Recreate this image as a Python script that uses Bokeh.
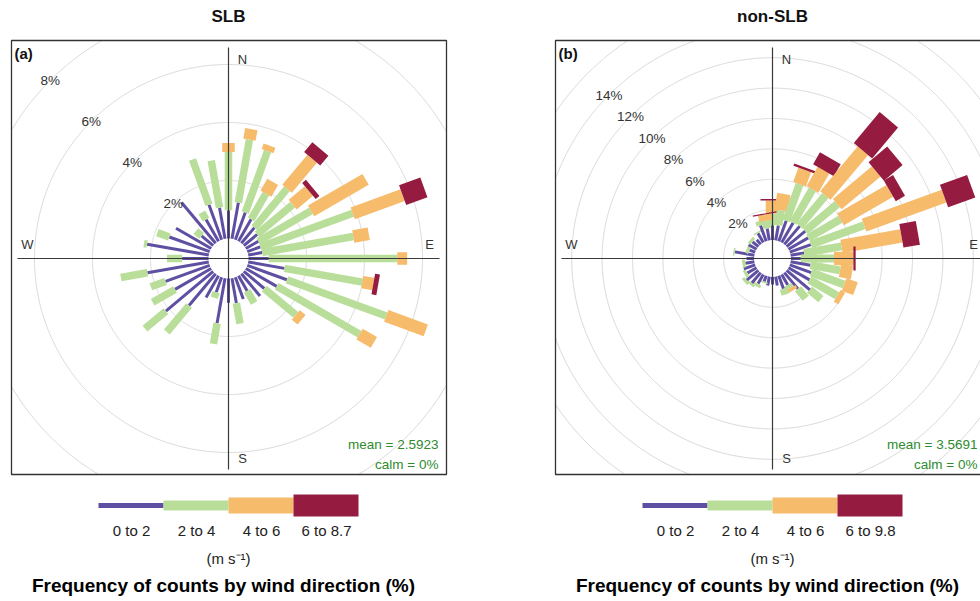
import numpy as np
from bokeh.plotting import figure
from bokeh.models import Range1d
from bokeh.core.properties import value
from bokeh.embed import file_html
from bokeh.resources import INLINE

W, H = 980, 601
FONT = value("Liberation Sans")

# ---------------- data ----------------
directions = list(range(0, 360, 10))
bin_colors = ["#5E4FA2", "#B9DE9A", "#F6BB6B", "#961B40"]

panel_titles = ["SLB", "non-SLB"]
panel_tags = ["(a)", "(b)"]
unit_label = "(m s\u207b\u00b9)"
caption = "Frequency of counts by wind direction (%)"
compass = ["N", "E", "S", "W"]

# SLB: frequency (%) per direction for each speed interval
slb_labels = ["0 to 2", "2 to 4", "4 to 6", "6 to 8.7"]
slb_0_2 = [0.97, 1.27, 1.00, 0.87, 0.70, 0.60, 0.50, 0.48, 0.49, 0.70, 1.27, 1.45,
           1.23, 0.92, 1.00, 0.60, 0.80, 0.87, 0.84, 1.58, 0.55, 0.86, 1.43, 2.13,
           1.44, 1.62, 2.15, 0.91, 2.16, 1.48, 1.40, 0.52, 1.83, 0.86, 1.28, 1.09]
slb_2_4 = [2.01, 2.20, 2.25, 1.02, 1.75, 1.60, 2.10, 3.39, 3.19, 4.43, 2.73, 3.65,
           3.30, 1.42, 0.00, 0.48, 0.00, 0.72, 0.00, 0.72, 0.20, 0.00, 1.19, 0.94,
           0.89, 0.54, 0.93, 0.52, 0.11, 0.44, 0.00, 0.26, 0.00, 0.29, 1.66, 1.65]
slb_4_6 = [0.31, 0.37, 0.20, 0.47, 1.35, 0.73, 2.17, 1.83, 0.54, 0.34, 0.38, 1.45,
           0.57, 0.26, 0, 0, 0, 0, 0, 0, 0, 0, 0, 0,
           0, 0, 0, 0, 0, 0, 0, 0, 0, 0, 0, 0]
slb_6_87 = [0, 0, 0, 0, 0.44, 0.17, 0, 0.78, 0, 0, 0.17, 0,
            0, 0, 0, 0, 0, 0, 0, 0, 0, 0, 0, 0,
            0, 0, 0, 0, 0, 0, 0, 0, 0, 0, 0, 0]
slb_rings = [2, 4, 6, 8]
slb_mean = "mean = 2.5923"
slb_calm = "calm = 0%"

# non-SLB
nonslb_labels = ["0 to 2", "2 to 4", "4 to 6", "6 to 9.8"]
nonslb_0_2 = [0.97, 1.00, 1.43, 1.50, 1.57, 1.60, 1.50, 1.47, 0.90, 0.65, 1.32, 1.50,
              1.60, 2.00, 1.40, 0.80, 0.90, 0.60, 0.50, 0.60, 0.40, 0.70, 0.90, 1.00,
              0.70, 0.80, 0.60, 0.50, 1.30, 0.40, 0.60, 0.50, 0.40, 0.70, 1.10, 0.80]
nonslb_2_4 = [0.78, 1.00, 2.57, 2.55, 2.63, 2.75, 2.45, 3.73, 2.50, 2.19, 1.98, 2.30,
              2.10, 0.95, 0.80, 0.26, 0.40, 0.00, 0.00, 0.00, 0.10, 0.20, 0.15, 0.20,
              0.20, 0.00, 0.20, 0.00, 0.10, 0.20, 0.00, 0.20, 0.00, 0.10, 0.30, 0.50]
nonslb_4_6 = [0.85, 1.10, 1.00, 1.45, 3.85, 3.35, 3.75, 5.60, 4.00, 1.27, 0.80, 0.80,
              0.35, 0, 0, 0.22, 0, 0, 0, 0, 0, 0, 0, 0,
              0, 0, 0, 0, 0, 0, 0, 0, 0, 0, 0, 0.42]
nonslb_6_98 = [0.10, 0, 0.15, 0.90, 2.65, 1.60, 0.70, 1.90, 1.10, 0.15, 0, 0,
               0, 0, 0, 0, 0, 0, 0, 0, 0, 0, 0, 0,
               0, 0, 0, 0, 0, 0, 0, 0, 0, 0, 0, 0.08]
nonslb_rings = [2, 4, 6, 8, 10, 12, 14]
nonslb_mean = "mean = 3.5691"
nonslb_calm = "calm = 0%"

# ---------------- layout (pixels) ----------------
panels = [
    dict(cx=228, cy=258, k=29.0, hole=20.0, box=(11, 446, 40, 474), stat_x=438,
         bins=[slb_0_2, slb_2_4, slb_4_6, slb_6_87], labels=slb_labels,
         rings=slb_rings, extra_rings=[], widths=[3, 7.5, 12.5, 21],
         mean=slb_mean, calm=slb_calm),
    dict(cx=772, cy=258, k=15.2, hole=18.4, box=(555, 990, 40, 474), stat_x=977,
         bins=[nonslb_0_2, nonslb_2_4, nonslb_4_6, nonslb_6_98], labels=nonslb_labels,
         rings=nonslb_rings, extra_rings=[16], widths=[3, 8, 13.5, 24],
         mean=nonslb_mean, calm=nonslb_calm),
]


def Y(ys):
    return H - ys


p = figure(width=W, height=H, x_range=Range1d(0, W), y_range=Range1d(0, H),
           output_backend="svg", toolbar_location=None,
           x_axis_location=None, y_axis_location=None, min_border=0,
           outline_line_color=None, background_fill_color="white",
           border_fill_color="white")
p.xgrid.visible = False
p.ygrid.visible = False


def txt(x, y, s, size="13px", color="#333333", align="center", style="normal"):
    p.text(x=[x], y=[Y(y)], text=[s], text_font=FONT, text_font_size=value(size),
           text_color=color, text_align=align, text_baseline="middle",
           text_font_style=style)


for i, pn in enumerate(panels):
    cx, cy, k, hole = pn["cx"], pn["cy"], pn["k"], pn["hole"]
    x0, x1, y0, y1 = pn["box"]

    # grid circles clipped to box
    gx, gy = [], []
    t = np.linspace(0, 2 * np.pi, 1441)
    for pct in pn["rings"] + pn["extra_rings"]:
        r = hole + k * pct
        xs = cx + r * np.cos(t)
        ys = cy + r * np.sin(t)
        ins = (xs >= x0) & (xs <= x1) & (ys >= y0) & (ys <= y1)
        gx += list(np.where(ins, xs, np.nan)) + [np.nan]
        gy += list(np.where(ins, Y(ys), np.nan)) + [np.nan]
    p.line(gx, gy, line_color="#d6d6d6", line_width=1)

    # wind rose paddles
    rx, ry, rw, rh, ra, rc = [], [], [], [], [], []
    for j, d in enumerate(directions):
        th = np.radians(d)
        start = 0.0
        for b in range(4):
            f = pn["bins"][b][j]
            if f <= 0:
                continue
            end = start + f
            mid = hole + k * (start + end) / 2.0
            rx.append(cx + mid * np.sin(th))
            ry.append(Y(cy) + mid * np.cos(th))
            rw.append(k * f)
            rh.append(pn["widths"][b])
            ra.append(np.radians(90 - d))
            rc.append(bin_colors[b])
            start = end
    p.rect(x=rx, y=ry, width=rw, height=rh, angle=ra, fill_color=rc,
           line_color=None)

    # axis cross
    L = 211
    p.segment(x0=[cx, cx - L], y0=[Y(cy - L), Y(cy)], x1=[cx, cx + L],
              y1=[Y(cy + L), Y(cy)], line_color="#3a3a3a", line_width=1.2)

    # box
    p.quad(left=[x0], right=[x1], top=[Y(y0)], bottom=[Y(y1)],
           fill_color=None, line_color="#333333", line_width=1.3)

    # compass labels
    txt(cx + 14, cy - 199, compass[0])
    txt(cx + 201, cy - 14, compass[1])
    txt(cx + 14, cy + 200, compass[2])
    txt(cx - 201, cy - 14, compass[3])

    # ring labels on NW diagonal
    for pct in pn["rings"]:
        r = hole + k * pct
        txt(cx - r * np.sqrt(0.5), cy - r * np.sqrt(0.5), f"{pct}%", size="13.5px")

    # stats
    txt(pn["stat_x"], 444, pn["mean"], size="13.5px", color="#2E8B2E", align="right")
    txt(pn["stat_x"], 464, pn["calm"], size="13.5px", color="#2E8B2E", align="right")

    # tag and title
    txt(x0 + 3, 53, panel_tags[i], size="15px", color="#111111", align="left",
        style="bold")
    txt(cx, 16, panel_titles[i], size="17px", color="#111111", style="bold")

    # legend key
    ly = 505
    seg = 65
    heights = [5, 10, 16, 22]
    lx0 = cx - 2 * seg
    p.quad(left=[lx0 + seg * b for b in range(4)],
           right=[lx0 + seg * (b + 1) for b in range(4)],
           top=[Y(ly) + h / 2 for h in heights],
           bottom=[Y(ly) - h / 2 for h in heights],
           fill_color=bin_colors, line_color=None)
    for b in range(4):
        txt(lx0 + seg * b + seg / 2 + 0.5, 530, pn["labels"][b], size="15px",
            color="#222222")
    txt(cx, 558, unit_label, size="15px", color="#222222")
    txt(cx - 5, 585, caption, size="19px", color="#000000", style="bold")

open("out.html", "w").write(file_html(p, INLINE))
